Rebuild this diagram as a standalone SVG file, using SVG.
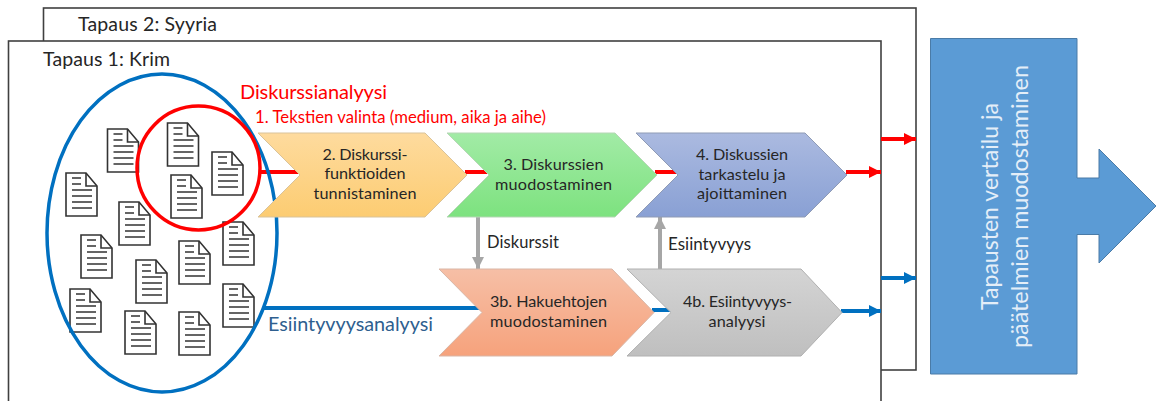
<svg xmlns="http://www.w3.org/2000/svg" width="1156" height="401" viewBox="0 0 1156 401">
<style>
text{font-family:Lato,"Liberation Sans",sans-serif;}
.case{fill:#fff;stroke:#404040;stroke-width:1.6}
.lbl{font-size:19.5px;fill:#262626}
.step{font-size:16.2px;fill:#262626;text-anchor:middle}
.chev{stroke-width:1}
.red{stroke:#ff0000;stroke-width:4;fill:none}
.blue{stroke:#0070c0;stroke-width:4;fill:none}
.grey{stroke:#a6a6a6;stroke-width:4;fill:none}
.docb{fill:#fff;stroke:#333;stroke-width:1.6}
.docl{stroke:#333;stroke-width:1.6;fill:none}
</style>
<defs>
<linearGradient id="gO" x1="0" y1="0" x2="0" y2="1"><stop offset="0" stop-color="#fedb9e"/><stop offset="1" stop-color="#fccc72"/></linearGradient>
<linearGradient id="gG" x1="0" y1="0" x2="0" y2="1"><stop offset="0" stop-color="#a2eba6"/><stop offset="1" stop-color="#7de27f"/></linearGradient>
<linearGradient id="gB" x1="0" y1="0" x2="0" y2="1"><stop offset="0" stop-color="#abbae0"/><stop offset="1" stop-color="#89a0d4"/></linearGradient>
<linearGradient id="gS" x1="0" y1="0" x2="0" y2="1"><stop offset="0" stop-color="#f6bfa6"/><stop offset="1" stop-color="#f6a27c"/></linearGradient>
<linearGradient id="gY" x1="0" y1="0" x2="0" y2="1"><stop offset="0" stop-color="#d4d4d4"/><stop offset="1" stop-color="#bfbfbf"/></linearGradient>
<marker id="mR" markerUnits="userSpaceOnUse" markerWidth="12" markerHeight="12" refX="12" refY="6" orient="auto"><path d="M0 0L12 6L0 12Z" fill="#ff0000"/></marker>
<marker id="mB" markerUnits="userSpaceOnUse" markerWidth="12" markerHeight="12" refX="12" refY="6" orient="auto"><path d="M0 0L12 6L0 12Z" fill="#0070c0"/></marker>
<marker id="mY" markerUnits="userSpaceOnUse" markerWidth="12" markerHeight="12" refX="12" refY="6" orient="auto"><path d="M0 0L12 6L0 12Z" fill="#a6a6a6"/></marker>
<g id="doc">
<path class="docb" d="M0 0H20L31 13V43H0Z"/>
<path class="docl" d="M20 0V13H31M6 5H15M6 11H15M6 17H26M6 23H26M6 29H26M6 35H26"/>
</g>
</defs>
<rect width="1156" height="401" fill="#fff"/>
<g id="case2">
<rect class="case" x="43.5" y="8" width="872.5" height="362"/>
<text class="lbl" x="78" y="31" textLength="139">Tapaus 2: Syyria</text>
</g>
<g id="case1">
<rect class="case" x="8.5" y="41" width="872.500" height="380"/>
<text class="lbl" x="43" y="66" textLength="127">Tapaus 1: Krim</text>
</g>
<g id="docs">
<use href="#doc" x="107.500" y="129"/>
<use href="#doc" x="167.500" y="123"/>
<use href="#doc" x="212" y="152"/>
<use href="#doc" x="171" y="175"/>
<use href="#doc" x="66" y="173"/>
<use href="#doc" x="119" y="202"/>
<use href="#doc" x="81" y="235"/>
<use href="#doc" x="223" y="222"/>
<use href="#doc" x="179" y="241"/>
<use href="#doc" x="136" y="260"/>
<use href="#doc" x="70" y="289"/>
<use href="#doc" x="223" y="284"/>
<use href="#doc" x="125" y="311"/>
<use href="#doc" x="179" y="312"/>
</g>
<g id="connectors">
<path class="red" d="M260 172H302"/>
<path class="red" d="M465 172H491"/>
<path class="red" d="M655 172H679"/>
<path class="red" d="M846 172H881" marker-end="url(#mR)"/>
<path class="red" d="M881 139H916" marker-end="url(#mR)"/>
<path class="blue" d="M263 308H484"/>
<path class="blue" d="M652 310H673"/>
<path class="blue" d="M841 311H881" marker-end="url(#mB)"/>
<path class="blue" d="M881 278H916" marker-end="url(#mB)"/>
<path class="grey" d="M478 216V269" marker-end="url(#mY)"/>
<path class="grey" d="M660 269V217" marker-end="url(#mY)"/>
</g>
<g id="blue-ellipse"><ellipse cx="162" cy="233" rx="115" ry="159" fill="none" stroke="#0070c0" stroke-width="3.500"/></g>
<g id="red-circle"><ellipse cx="198.500" cy="168" rx="61.500" ry="62" fill="none" stroke="#ff0000" stroke-width="3.500"/></g>
<g id="title-discourse"><text x="240" y="99" font-size="20" fill="#ff0000" textLength="147">Diskurssianalyysi</text></g>
<g id="step1"><text x="255" y="123" font-size="16.700" fill="#ff0000" textLength="291">1. Tekstien valinta (medium, aika ja aihe)</text></g>
<g id="step2">
<path class="chev" fill="url(#gO)" stroke="#d9c39a" d="M258 133H425L467 175L425 217H258L300 175Z"/>
<text class="step" x="365" y="160" textLength="85">2. Diskurssi-</text>
<text class="step" x="365" y="179" textLength="81">funktioiden</text>
<text class="step" x="365" y="199" textLength="103">tunnistaminen</text>
</g>
<g id="step3">
<path class="chev" fill="url(#gG)" stroke="#b5d6b5" d="M447 133H615L657 175L615 217H447L489 175Z"/>
<text class="step" x="553.500" y="170" textLength="100">3. Diskurssien</text>
<text class="step" x="553.500" y="190" textLength="117">muodostaminen</text>
</g>
<g id="step4">
<path class="chev" fill="url(#gB)" stroke="#8f9bb5" d="M636 133H805L847 175L805 217H636L678 175Z"/>
<text class="step" x="742" y="160" textLength="92">4. Diskussien</text>
<text class="step" x="742" y="180" textLength="87">tarkastelu ja</text>
<text class="step" x="742" y="199" textLength="90">ajoittaminen</text>
</g>
<g id="step3b">
<path class="chev" fill="url(#gS)" stroke="#d9b6a6" d="M439 269H612L654 312.500L612 356H439L482 312.500Z"/>
<text class="step" x="548.500" y="307" textLength="117">3b. Hakuehtojen</text>
<text class="step" x="548.500" y="327" textLength="117">muodostaminen</text>
</g>
<g id="step4b">
<path class="chev" fill="url(#gY)" stroke="#b0b0b0" d="M627 269H801L842 312.500L801 356H627L671 312.500Z"/>
<text class="step" x="737.500" y="307" textLength="109">4b. Esiintyvyys-</text>
<text class="step" x="737" y="327" textLength="57">analyysi</text>
</g>
<g id="label-frequency-analysis"><text x="268" y="331" font-size="19.800" fill="#2f5f8f" textLength="165">Esiintyvyysanalyysi</text></g>
<g id="label-discourses"><text x="487" y="248" font-size="16.500" fill="#262626" textLength="72">Diskurssit</text></g>
<g id="label-frequency"><text x="668" y="250" font-size="17" fill="#262626" textLength="83">Esiintyvyys</text></g>
<g id="comparison">
<path fill="#5b9bd5" stroke="#4a7ba7" stroke-width="1" d="M930.500 38.500H1077V178H1099V149L1156 206L1099 263V234.500H1077V374H930.500Z"/>
<text font-size="23" fill="#e4eef8" text-anchor="middle" textLength="207" transform="translate(998 206.500) rotate(-90)">Tapausten vertailu ja</text>
<text font-size="23.400" fill="#e4eef8" text-anchor="middle" textLength="283" transform="translate(1028 206.500) rotate(-90)">päätelmien muodostaminen</text>
</g>
</svg>
